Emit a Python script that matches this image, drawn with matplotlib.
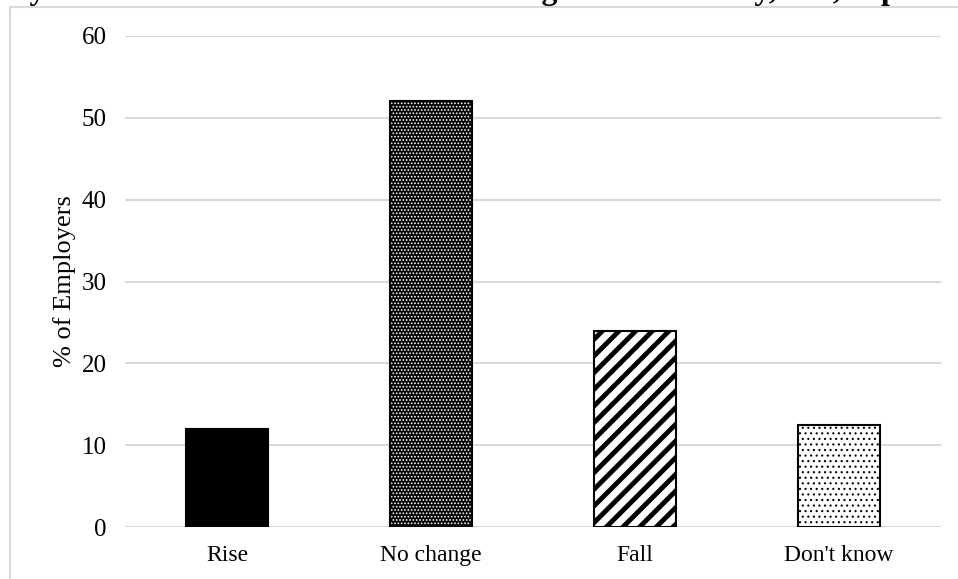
import matplotlib
matplotlib.use("Agg")
import matplotlib.pyplot as plt
from matplotlib.patches import Rectangle

# data
categories = ["Rise", "No change", "Fall", "Don't know"]
values = [12, 52, 24, 12.5]
title = "Employers' Estimated Effect of the Lowering of Productivity, UK, September 2020"
ylabel = "% of Employers"
yticks = [0, 10, 20, 30, 40, 50, 60]

plt.rcParams["font.family"] = ["Liberation Serif", "DejaVu Serif"]

W, H = 958, 579
fig = plt.figure(figsize=(W / 100, H / 100), dpi=100)
ax = fig.add_axes([125 / W, 1 - 527 / H, 816 / W, 491 / H])

x = list(range(len(categories)))
bw = 0.4

# bar styles: (face, hatch, hatch colour, hatch linewidth)
styles = [
    ("black", None, "black", 1.0),
    ("black", ".....", "white", 0.8),
    ("white", "//", "black", 3.5),
    ("white", "...", "black", 0.8),
]

for xi, v, (fc, hatch, hc, hlw) in zip(x, values, styles):
    with plt.rc_context({"hatch.linewidth": hlw}):
        ax.bar(xi, v, width=bw, color=fc, edgecolor="none", zorder=2)
        if hatch:
            ax.bar(xi, v, width=bw, color="none", edgecolor=hc,
                   hatch=hatch, linewidth=0, zorder=3)
    ax.bar(xi, v, width=bw, color="none", edgecolor="black",
           linewidth=1.5, zorder=4)

ax.set_xlim(-0.5, len(categories) - 0.5)
ax.set_ylim(0, 60)
ax.set_yticks(yticks)
ax.set_xticks(x)
ax.set_xticklabels(categories, fontsize=17)
ax.tick_params(axis="y", labelsize=18, length=0, pad=13)
ax.tick_params(axis="x", length=0, pad=13)
ax.grid(axis="y", color="#d9d9d9", linewidth=1.5, zorder=0)
ax.set_axisbelow(True)
for s in ax.spines.values():
    s.set_visible(False)
ax.axhline(0, color="#d9d9d9", linewidth=1.5, zorder=1)
ax.set_ylabel(ylabel, fontsize=19, labelpad=4)

# chart-area border (partly outside the image)
fig.patches.append(Rectangle((10 / W, -0.1), 1.2, 1 - 7 / H + 0.1,
                             transform=fig.transFigure, facecolor="none",
                             edgecolor="#d9d9d9", linewidth=1.5))

# title cut off at the top
fig.text(0.5 + 24 / W, 1 + 1 / H, title, ha="center", va="baseline",
         fontsize=23, fontweight="bold")

fig.savefig("out.png", dpi=100)
